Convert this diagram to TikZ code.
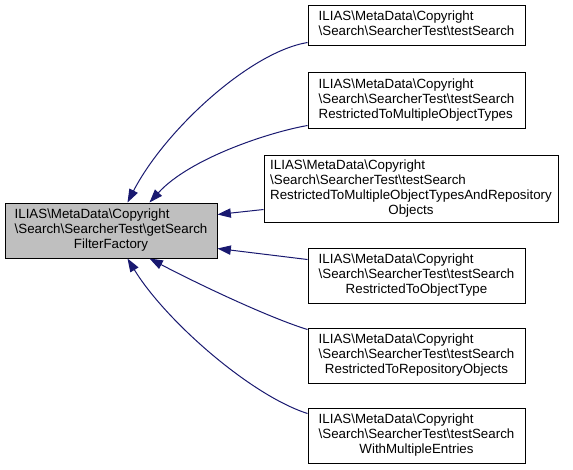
\documentclass[tikz,border=0pt]{standalone}
\usepackage{fontspec}
\setmainfont{Liberation Sans}
\usetikzlibrary{arrows.meta}
\definecolor{edgeblue}{HTML}{191970}
\definecolor{curgray}{HTML}{BFBFBF}

\tikzset{
	fn/.style={draw=black, fill=white, line width=0.75pt, inner sep=0pt, minimum width=162.75pt, minimum height=41.25pt, font=\fontsize{10}{11.25}\selectfont},
	cur/.style={fn, fill=curgray, minimum width=159pt},
	call/.style={draw=edgeblue, line width=0.75pt, -{Triangle[length=10pt,width=7pt,fill=edgeblue]}}
}

\begin{document}
\begin{tikzpicture}[x=0.75pt,y=-0.75pt]
	\useasboundingbox (0,0) rectangle (573,469);
	% function whose callers are shown
	\node[cur] (getfactory) at (111,230.5) {\begin{tabular}{@{}l@{}}ILIAS\textbackslash MetaData\textbackslash Copyright\\\textbackslash Search\textbackslash SearcherTest\textbackslash getSearch\\\multicolumn{1}{@{}c@{}}{FilterFactory}\end{tabular}};
	% callers
	\node[fn, minimum height=30pt] (search) at (416.5,25) {\begin{tabular}{@{}l@{}}ILIAS\textbackslash MetaData\textbackslash Copyright\\\textbackslash Search\textbackslash SearcherTest\textbackslash testSearch\end{tabular}};
	\node[fn, minimum height=42pt] (multitypes) at (416.5,100) {\begin{tabular}{@{}l@{}}ILIAS\textbackslash MetaData\textbackslash Copyright\\\textbackslash Search\textbackslash SearcherTest\textbackslash testSearch\\RestrictedToMultipleObjectTypes\end{tabular}};
	\node[fn, minimum width=220.5pt, minimum height=50.25pt] (multirepo) at (411,188.5) {\begin{tabular}{@{}l@{}}ILIAS\textbackslash MetaData\textbackslash Copyright\\\textbackslash Search\textbackslash SearcherTest\textbackslash testSearch\\RestrictedToMultipleObjectTypesAndRepository\\\multicolumn{1}{@{}c@{}}{Objects}\end{tabular}};
	\node[fn] (objtype) at (416.5,275.5) {\begin{tabular}{@{}l@{}}ILIAS\textbackslash MetaData\textbackslash Copyright\\\textbackslash Search\textbackslash SearcherTest\textbackslash testSearch\\\multicolumn{1}{@{}c@{}}{RestrictedToObjectType}\end{tabular}};
	\node[fn] (repoobj) at (416.5,355.5) {\begin{tabular}{@{}l@{}}ILIAS\textbackslash MetaData\textbackslash Copyright\\\textbackslash Search\textbackslash SearcherTest\textbackslash testSearch\\\multicolumn{1}{@{}c@{}}{RestrictedToRepositoryObjects}\end{tabular}};
	\node[fn] (multientries) at (416.5,435.5) {\begin{tabular}{@{}l@{}}ILIAS\textbackslash MetaData\textbackslash Copyright\\\textbackslash Search\textbackslash SearcherTest\textbackslash testSearch\\\multicolumn{1}{@{}c@{}}{WithMultipleEntries}\end{tabular}};
	% call edges
	\draw[call] ([shift={(0,-3)}]search.south west) .. controls (250,52) and (165,130) .. ([shift={(123,0)}]getfactory.north west);
	\draw[call] ([shift={(0,-3)}]multitypes.south west) .. controls (270,132) and (190,158) .. ([shift={(145,0)}]getfactory.north west);
	\draw[call] ([shift={(0,-13)}]multirepo.south west) -- ([shift={(0,12)}]getfactory.north east);
	\draw[call] ([shift={(0,12)}]objtype.north west) -- ([shift={(0,-10)}]getfactory.south east);
	\draw[call] ([shift={(0,2)}]repoobj.north west) .. controls (270,318) and (200,285) .. ([shift={(145,0)}]getfactory.south west);
	\draw[call] ([shift={(0,6)}]multientries.north west) .. controls (250,395) and (165,320) .. ([shift={(123,0)}]getfactory.south west);
\end{tikzpicture}
\end{document}
